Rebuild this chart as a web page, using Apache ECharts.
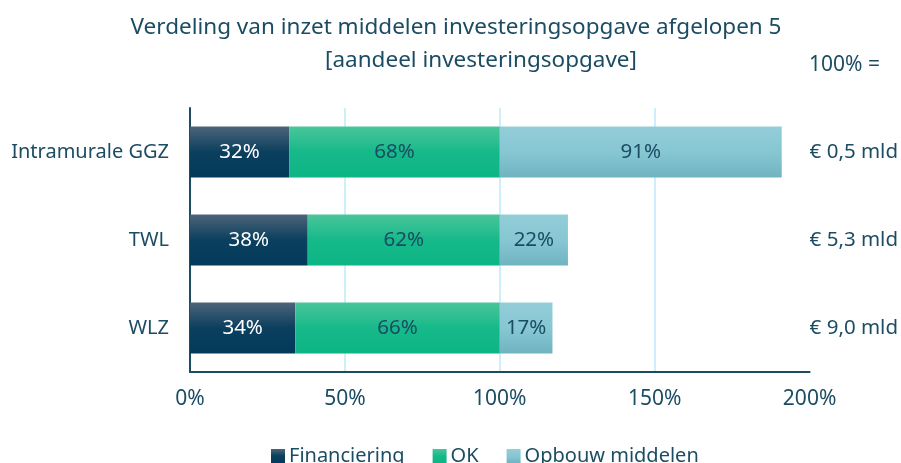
<!DOCTYPE html>
<html>
<head>
<meta charset="utf-8">
<script src="https://cdn.jsdelivr.net/npm/echarts@6/dist/echarts.min.js"></script>
<style>
  html, body { margin: 0; padding: 0; background: #ffffff; }
  #chart { width: 901px; height: 463px; }
</style>
</head>
<body>
<div id="chart"></div>
<script>
// Categories (top to bottom) and their total investment volumes
const categories = ['Intramurale GGZ', 'TWL', 'WLZ'];
const totals = ['€ 0,5 mld', '€ 5,3 mld', '€ 9,0 mld'];

// Share of the investment task per funding source (%)
const financiering = [32, 38, 34];
const ok = [68, 62, 66];
const opbouwMiddelen = [91, 22, 17];

const xTicks = [0, 50, 100, 150, 200];

const textColor = '#1b4c63';
const fontFamily = '"Noto Sans", "Open Sans", sans-serif';

function vGrad(stops) {
  return new echarts.graphic.LinearGradient(0, 0, 0, 1,
    stops.map(function (c, i) { return { offset: i / (stops.length - 1), color: c }; }));
}

function barSeries(name, data, color, labelColor) {
  return {
    name: name,
    type: 'bar',
    stack: 'total',
    barWidth: 51,
    data: data,
    itemStyle: { color: color },
    label: {
      show: true,
      position: 'inside',
      formatter: '{c}%',
      color: labelColor,
      fontSize: 20.5,
      fontFamily: fontFamily
    },
    emphasis: { disabled: true }
  };
}

const chart = echarts.init(document.getElementById('chart'), null, { renderer: 'canvas' });

chart.setOption({
  animation: false,
  backgroundColor: '#ffffff',
  textStyle: { fontFamily: fontFamily, color: textColor },
  graphic: [
    {
      type: 'text', x: 456, y: 28,
      style: {
        text: 'Verdeling van inzet middelen investeringsopgave afgelopen 5',
        fill: textColor, font: '22.5px ' + fontFamily,
        textAlign: 'center', textVerticalAlign: 'middle'
      }
    },
    {
      type: 'text', x: 481, y: 61,
      style: {
        text: '[aandeel investeringsopgave]',
        fill: textColor, font: '22.5px ' + fontFamily,
        textAlign: 'center', textVerticalAlign: 'middle'
      }
    },
    {
      type: 'text', x: 809, y: 65,
      style: {
        text: '100% =',
        fill: textColor, font: '21px ' + fontFamily,
        textAlign: 'left', textVerticalAlign: 'middle'
      }
    }
  ],
  grid: { left: 190, right: 91, top: 108, height: 264, containLabel: false },
  legend: {
    bottom: -8,
    left: 266,
    itemWidth: 14,
    itemHeight: 14,
    itemGap: 28,
    icon: 'rect',
    textStyle: { color: textColor, fontSize: 20, fontFamily: fontFamily, padding: [0, 0, 0, -1] },
    data: ['Financiering', 'OK', 'Opbouw middelen']
  },
  xAxis: {
    type: 'value',
    min: xTicks[0],
    max: xTicks[xTicks.length - 1],
    interval: 50,
    axisLine: { show: true, lineStyle: { color: '#1b4c63', width: 2 } },
    axisTick: { show: false },
    axisLabel: {
      formatter: '{value}%',
      color: textColor,
      fontSize: 21,
      margin: 17,
      fontFamily: fontFamily
    },
    splitLine: {
      show: true,
      lineStyle: { color: ['rgba(0,0,0,0)', '#cdeefb', '#cdeefb', '#cdeefb', 'rgba(0,0,0,0)'], width: 2 }
    }
  },
  yAxis: [
    {
      type: 'category',
      inverse: true,
      data: categories,
      axisLine: { show: true, lineStyle: { color: '#1b4c63', width: 2 } },
      axisTick: { show: false },
      axisLabel: { color: textColor, fontSize: 20, margin: 21, fontFamily: fontFamily }
    },
    {
      type: 'category',
      inverse: true,
      position: 'right',
      data: totals,
      axisLine: { show: false },
      axisTick: { show: false },
      axisLabel: { color: textColor, fontSize: 20.5, margin: 0, align: 'left', fontFamily: fontFamily }
    }
  ],
  series: [
    barSeries('Financiering', financiering, vGrad(['#4c6479', '#0b3f5e', '#033a5b']), '#ffffff'),
    barSeries('OK', ok, vGrad(['#4ac59a', '#16b98a', '#0db584']), '#1b4c63'),
    barSeries('Opbouw middelen', opbouwMiddelen, vGrad(['#93cdd8', '#86c7d2', '#70b4c1']), '#1b4c63')
  ]
});
</script>
</body>
</html>
